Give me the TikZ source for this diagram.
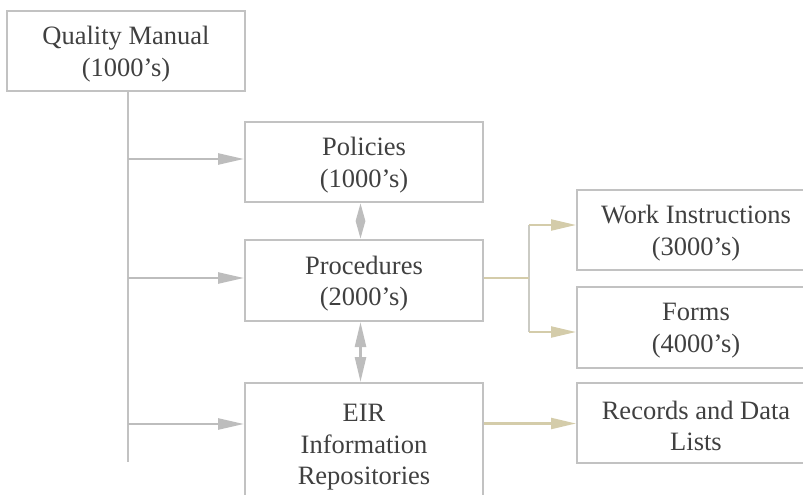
\documentclass[tikz,border=0pt]{standalone}
\usepackage{fontspec}
\setmainfont{Liberation Serif}
\usetikzlibrary{arrows.meta}
\definecolor{boxgray}{HTML}{C2C2C2}
\definecolor{arrgray}{HTML}{BDBDBD}
\definecolor{tan}{HTML}{D4CCAA}
\definecolor{vgray}{HTML}{CBCBC4}
\definecolor{txt}{HTML}{404040}
\tikzset{
  box/.style={draw=boxgray, line width=2pt, minimum width=238pt, inner sep=0pt},
  lbl/.style={align=center, text=txt, inner sep=0pt, font=\fontsize{26.5}{31.5}\selectfont},
  garrow/.style={draw=arrgray, line width=2.5pt, -{Triangle[length=26pt,width=11pt]}},
  tarrow/.style={draw=tan, line width=2.2pt, -{Triangle[length=25pt,width=11pt]}},
  tline/.style={draw=tan, line width=2.2pt},
  vline/.style={draw=vgray, line width=1.5pt},
  trunkline/.style={draw=boxgray, line width=2pt},
  dblshort/.style={draw=arrgray, line width=2.5pt, {Triangle[length=18pt,width=9pt]}-{Triangle[length=18pt,width=9pt]}},
  dbllong/.style={draw=arrgray, line width=2.5pt, {Triangle[length=25pt,width=11pt]}-{Triangle[length=25pt,width=11pt]}},
}
\begin{document}
\begin{tikzpicture}[x=1pt,y=-1pt]
\useasboundingbox (0,0) rectangle (803,495);
\clip (0,0) rectangle (803,495);
\node[box, minimum height=80pt] (qm) at (126,51) {};
\node[box, minimum height=80pt] (pol) at (364,162) {};
\node[box, minimum height=81pt] (proc) at (364,280.5) {};
\node[box, minimum height=122pt] (eir) at (364,444) {};
\node[box, minimum height=80pt] (wi) at (696,230) {};
\node[box, minimum height=81pt] (forms) at (696,327.5) {};
\node[box, minimum height=80pt] (rec) at (696,423) {};
\node[lbl] (qmt) at ([yshift=-3pt]qm.center) {Quality Manual\\(1000’s)};
\node[lbl] (polt) at ([yshift=-3pt]pol.center) {Policies\\(1000’s)};
\node[lbl] (proct) at ([yshift=-3pt]proc.center) {Procedures\\(2000’s)};
\node[lbl] (eirt) at ([yshift=-3.5pt]eir.center) {EIR\\Information\\Repositories};
\node[lbl] (wit) at ([yshift=-3pt]wi.center) {Work Instructions\\(3000’s)};
\node[lbl] (formst) at ([yshift=-3pt]forms.center) {Forms\\(4000’s)};
\node[lbl] (rect) at ([yshift=-3pt]rec.center) {Records and Data\\Lists};
% trunk
\coordinate (ttop) at (128,91);
\coordinate (tbot) at (128,462);
\coordinate (t1) at (128,159);
\coordinate (t2) at (128,278);
\coordinate (t3) at (128,424);
\draw[trunkline] (ttop) -- (tbot);
\draw[garrow] (t1) -- (t1 -| pol.west);
\draw[garrow] (t2) -- (t2 -| proc.west);
\draw[garrow] (t3) -- (t3 -| eir.west);
% double arrows
\draw[dblshort] ([xshift=-3.5pt]pol.south) -- ([xshift=-3.5pt]proc.north);
\draw[dbllong] ([xshift=-3.5pt]proc.south) -- ([xshift=-3.5pt]eir.north);
% tan connectors
\coordinate (p1) at (483,278);
\coordinate (j) at (529,278);
\coordinate (jt) at (529,225);
\coordinate (jb) at (529,332);
\draw[vline] (jt) -- (jb);
\draw[tline] (proc.east |- p1) -- (j);
\draw[tarrow] (jt) -- (jt -| wi.west);
\draw[tarrow] (jb) -- (jb -| forms.west);
\coordinate (e1) at (483,423.5);
\draw[tarrow] (eir.east |- e1) -- (e1 -| rec.west);
\end{tikzpicture}
\end{document}
